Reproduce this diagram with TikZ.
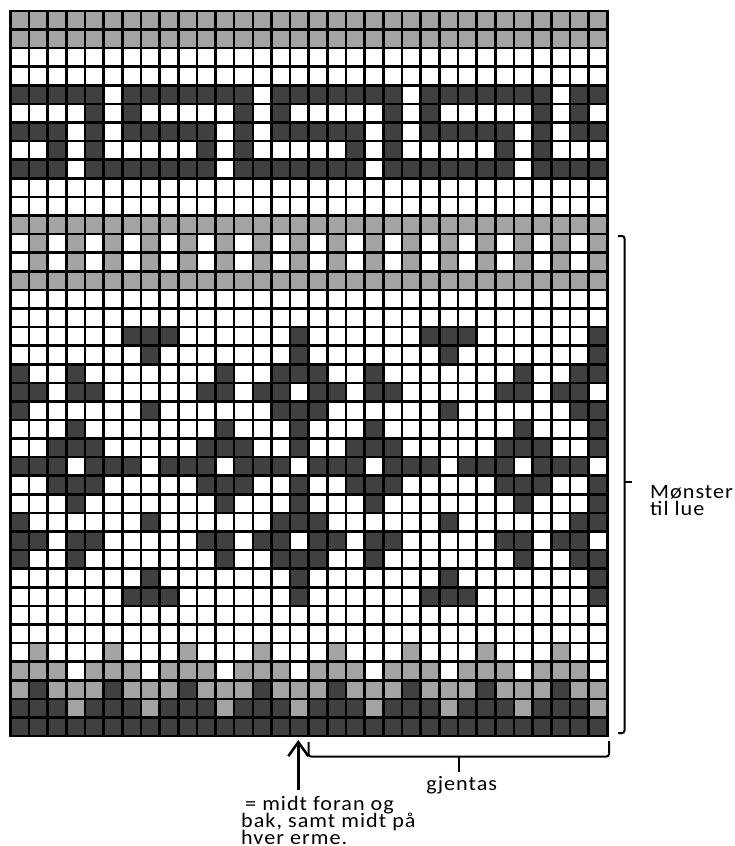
\documentclass[tikz,border=0pt]{standalone}
\usepackage{fontspec}
\usepackage{xstring}
\usetikzlibrary{arrows.meta}
\usetikzlibrary{positioning}
\newfontfamily\chartfont[LetterSpace=5,FakeStretch=1.08]{Carlito}
\definecolor{lysgraa}{HTML}{A3A3A3}
\definecolor{morkgraa}{HTML}{404040}
\colorlet{farge0}{white}
\colorlet{farge1}{lysgraa}
\colorlet{farge2}{morkgraa}
\tikzset{rutenett/.style={draw=black,line width=2.6pt}}
\tikzset{klamme/.style={draw=black,line width=2pt,rounded corners=2.5pt}}
\tikzset{pil/.style={draw=black,line width=2.5pt,-{Straight Barb[length=14pt,width=20pt]}}}
\tikzset{tekst/.style={font={\chartfont\fontsize{20.5pt}{17pt}\selectfont},inner sep=0pt,anchor=base west}}

\begin{document}
\begin{tikzpicture}[x=1pt,y=-1pt]
    \useasboundingbox (0,0) rectangle (735,846);

    % ruter: 0 = hvit, 1 = lys graa, 2 = mork graa (16 masker, gjentas to ganger)
    \begin{scope}[shift={(10.3,11)},x=18.656pt,y=-18.59pt]
    \foreach \n/\rad in
    {
      0/1111111111111111,  1/1111111111111111,  2/0000000000000000,
      3/0000000000000000,  4/2222202222222022,  5/0000202000002020,
      6/2220202222202022,  7/0020200000202000,  8/2220222222202222,
      9/0000000000000000, 10/0000000000000000, 11/1111111111111111,
     12/0101010101010101, 13/0101010101010101, 14/1111111111111111,
     15/0000000000000000, 16/0000000000000000, 17/0000002220000002,
     18/0000000200000002, 19/2002000000020022, 20/2202200000220220,
     21/2000000200000022, 22/0002000000020002, 23/0022200000222002,
     24/2220222022202220, 25/0022200000222002, 26/0002000000020002,
     27/2000000200000022, 28/2202200000220220, 29/2002000000020022,
     30/0000000200000002, 31/0000002220000002, 32/0000000000000000,
     33/0000000000000000, 34/0100010001000100, 35/1110111011101110,
     36/1211121112111211, 37/2221222122212221, 38/2222222222222222
    }
    {
      \foreach \c in {0,...,15}
      {
        \pgfmathtruncatemacro\k{\c+1}
        \StrChar{\rad}{\k}[\fg]
        \fill[fill=farge\fg] (\c,\n) rectangle ++(1,1);
        \fill[fill=farge\fg] (\c+16,\n) rectangle ++(1,1);
      }
    }

    % linjer
    \foreach \c in {0,...,32} \draw[rutenett] (\c,0) -- (\c,39);
    \foreach \n in {0,...,39} \draw[rutenett] (0,\n) -- (32,\n);
    \draw[rutenett] (0,0) rectangle (32,39);
    \end{scope}

    % klammer
    \coordinate (lue topp) at (618,236);
    \coordinate (lue bunn) at (618,733);
    \draw[klamme] (lue topp) -- ++(6.5,0) |- (lue bunn);
    \draw[klamme] (624.5,481.7) -- ++(7.5,0);
    \coordinate (gj venstre) at (308.5,742);
    \coordinate (gj hoyre) at (609,741);
    \draw[klamme] (gj venstre) -- (308.5,756.5) -- (609,756.5) -- (gj hoyre);
    \draw[klamme] (459,756.5) -- ++(0,15);

    % pil
    \coordinate (pil fot) at (298.3,790);
    \coordinate (pil spiss) at (298.3,740);
    \draw[pil] (pil fot) -- (pil spiss);

    % tekster
    \node[tekst] (lue1) at (650,498) {Mønster};
    \node[tekst] (lue2) at ([yshift=-17pt]lue1.base west) {til lue};
    \node[tekst,anchor=base] (gjentas) at (461.7,790) {gjentas};
    \node[tekst] (merk1) at (245,810.7) {= midt foran og};
    \node[tekst] (merk2) at (241,827) {bak, samt midt på};
    \node[tekst] (merk3) at ([yshift=-17pt]merk2.base west) {hver erme.};
\end{tikzpicture}
\end{document}
